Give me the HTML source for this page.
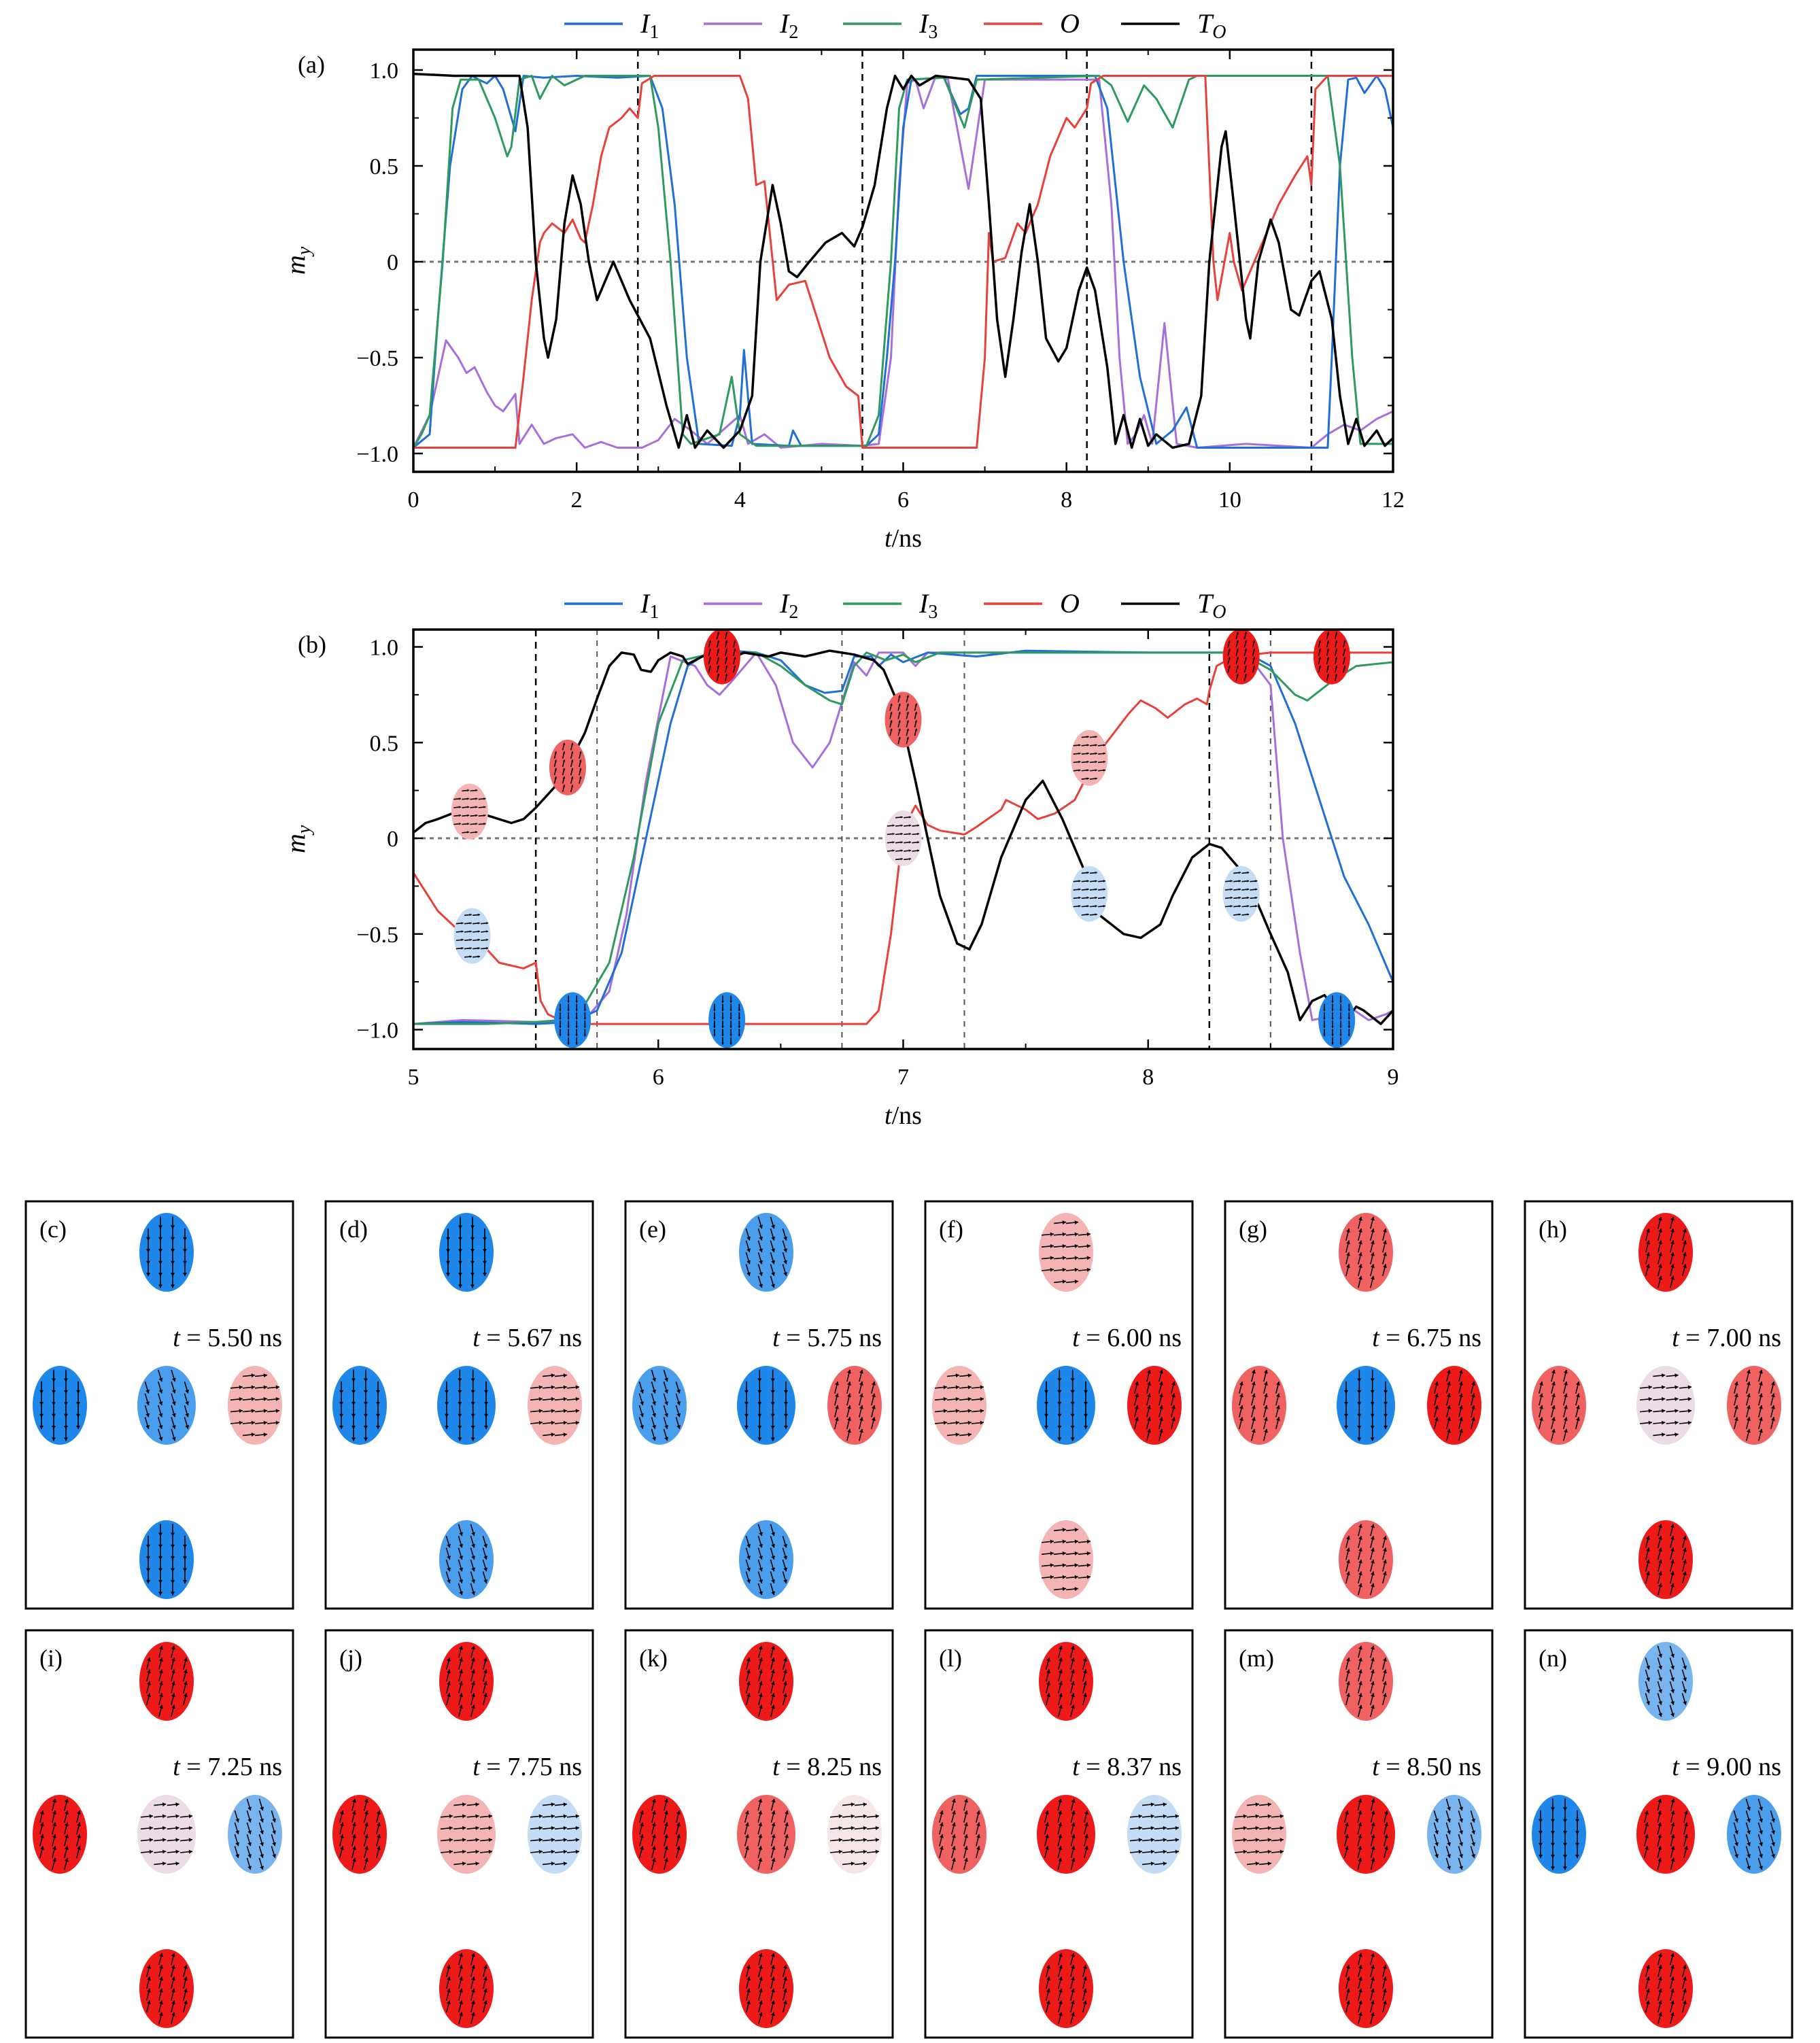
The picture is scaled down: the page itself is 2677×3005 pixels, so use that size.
<!DOCTYPE html>
<html><head><meta charset="utf-8"><style>
html,body{margin:0;padding:0;background:#fff;}
svg{display:block;font-family:"Liberation Serif",serif;}
</style></head><body>
<svg id="fig" width="2677" height="3005" viewBox="0 0 2677 3005" xmlns="http://www.w3.org/2000/svg">
<rect width="2677" height="3005" fill="#fff"/>
<g id="pa"></g>
<g id="pb"></g>
<g id="snap"></g>
</svg>
<script>
// ---------- Panel (a) data ----------
const aI1T=[0,0.2,0.3,0.45,0.6,0.72,0.8,0.9,1.0,1.1,1.25,1.35,1.6,2.0,2.5,2.9,3.05,3.2,3.35,3.5,3.9,4.0,4.05,4.15,4.6,4.65,4.75,5.55,5.7,5.8,5.9,6.0,6.1,6.5,6.7,6.8,6.9,8.35,8.5,8.7,8.9,9.1,9.3,9.47,9.6,11.2,11.25,11.35,11.45,11.55,11.65,11.8,11.9,12];
const aI1V=[-0.97,-0.9,-0.3,0.5,0.9,0.97,0.95,0.93,0.97,0.9,0.68,0.97,0.96,0.97,0.96,0.97,0.8,0.3,-0.5,-0.95,-0.96,-0.8,-0.46,-0.95,-0.96,-0.88,-0.96,-0.96,-0.9,-0.5,0,0.7,0.95,0.96,0.77,0.8,0.97,0.97,0.8,0,-0.6,-0.95,-0.88,-0.76,-0.97,-0.97,-0.5,0.5,0.95,0.96,0.88,0.97,0.9,0.7];
const aI2T=[0,0.2,0.4,0.55,0.65,0.75,0.9,1.0,1.1,1.25,1.3,1.45,1.6,1.75,1.95,2.1,2.3,2.5,2.8,3.0,3.2,3.4,3.6,4.0,4.1,4.3,4.5,5.0,5.5,5.7,5.85,5.95,6.05,6.15,6.25,6.4,6.55,6.8,7.0,8.4,8.55,8.65,8.75,8.85,8.95,9.05,9.2,9.35,9.6,10.2,11.0,11.2,11.4,11.6,11.8,12];
const aI2V=[-0.97,-0.8,-0.41,-0.5,-0.58,-0.55,-0.68,-0.75,-0.78,-0.69,-0.95,-0.85,-0.95,-0.92,-0.9,-0.97,-0.94,-0.97,-0.97,-0.93,-0.82,-0.88,-0.95,-0.8,-0.95,-0.9,-0.97,-0.95,-0.96,-0.95,-0.5,0.4,0.93,0.95,0.8,0.97,0.95,0.38,0.95,0.95,0.3,-0.5,-0.95,-0.9,-0.8,-0.95,-0.32,-0.95,-0.97,-0.95,-0.97,-0.9,-0.85,-0.88,-0.82,-0.78];
const aI3T=[0,0.1,0.2,0.36,0.48,0.58,0.8,1.0,1.15,1.2,1.3,1.45,1.55,1.7,1.85,2.1,2.9,3.0,3.15,3.3,3.4,3.75,3.9,4.0,4.2,5.55,5.7,5.85,5.95,6.05,6.5,6.75,6.9,8.4,8.55,8.75,8.95,9.1,9.3,9.5,9.6,11.2,11.35,11.5,11.6,12];
const aI3V=[-0.97,-0.9,-0.8,0,0.8,0.95,0.95,0.75,0.55,0.6,0.95,0.97,0.85,0.97,0.92,0.97,0.97,0.7,0,-0.9,-0.95,-0.9,-0.6,-0.9,-0.96,-0.96,-0.8,0,0.8,0.95,0.96,0.7,0.95,0.97,0.92,0.73,0.92,0.85,0.7,0.95,0.97,0.97,0.5,-0.5,-0.95,-0.95];
const aOT=[0,1.25,1.35,1.45,1.55,1.6,1.7,1.85,1.95,2.05,2.1,2.2,2.3,2.4,2.55,2.65,2.75,2.8,2.95,4.0,4.1,4.2,4.3,4.45,4.6,4.8,4.95,5.1,5.3,5.45,5.5,6.9,7.0,7.05,7.1,7.25,7.4,7.5,7.65,7.8,8.0,8.1,8.25,8.3,8.45,9.7,9.8,9.85,10.0,10.05,10.15,10.4,10.6,10.8,10.95,11.0,11.05,11.2,12];
const aOV=[-0.97,-0.97,-0.6,-0.2,0.1,0.15,0.2,0.15,0.22,0.12,0.1,0.3,0.55,0.7,0.75,0.8,0.75,0.93,0.97,0.97,0.85,0.4,0.42,-0.2,-0.12,-0.1,-0.3,-0.5,-0.65,-0.7,-0.97,-0.97,-0.5,0.15,0,0.02,0.2,0.15,0.3,0.55,0.75,0.7,0.8,0.93,0.97,0.97,0,-0.2,0.15,0,-0.15,0.1,0.3,0.45,0.55,0.4,0.9,0.97,0.97];
const aTT=[0,0.5,1.0,1.3,1.4,1.5,1.6,1.65,1.75,1.85,1.95,2.05,2.15,2.25,2.35,2.45,2.55,2.65,2.75,2.9,3.1,3.25,3.35,3.45,3.6,3.8,4.0,4.15,4.25,4.4,4.5,4.6,4.7,4.85,5.05,5.25,5.4,5.5,5.65,5.8,5.9,6.0,6.1,6.2,6.4,6.6,6.8,6.95,7.05,7.15,7.25,7.35,7.45,7.55,7.65,7.75,7.9,8.0,8.15,8.25,8.35,8.5,8.6,8.7,8.8,8.9,9.0,9.1,9.3,9.5,9.65,9.75,9.9,9.95,10.05,10.2,10.25,10.35,10.5,10.6,10.75,10.85,11.0,11.1,11.25,11.35,11.45,11.55,11.65,11.8,11.9,12];
const aTV=[0.98,0.97,0.97,0.97,0.7,0,-0.4,-0.5,-0.3,0.2,0.45,0.3,0,-0.2,-0.1,0,-0.1,-0.2,-0.28,-0.4,-0.75,-0.97,-0.8,-0.97,-0.88,-0.97,-0.88,-0.7,0,0.4,0.2,-0.05,-0.08,0,0.1,0.15,0.08,0.18,0.4,0.8,0.97,0.9,0.97,0.92,0.97,0.96,0.95,0.85,0.3,-0.3,-0.6,-0.3,0.05,0.3,0,-0.4,-0.52,-0.45,-0.15,-0.03,-0.15,-0.55,-0.95,-0.8,-0.97,-0.82,-0.96,-0.9,-0.97,-0.95,-0.7,0,0.6,0.68,0.3,-0.3,-0.4,0,0.22,0.1,-0.25,-0.28,-0.1,-0.05,-0.3,-0.7,-0.95,-0.82,-0.96,-0.88,-0.96,-0.92];
const aXTicks=[0,2,4,6,8,10,12];
const aYTicks=[1.0,0.5,0,-0.5,-1.0];
const aYTickLabels=["1.0","0.5","0","\u22120.5","\u22121.0"];
const aVLines=[2.75,5.5,8.25,11.0];

// ---------- Panel (b) data ----------
const bI1T=[5,5.2,5.5,5.65,5.75,5.85,5.95,6.05,6.12,6.2,6.3,6.4,6.5,6.6,6.68,6.75,6.8,6.87,6.9,6.95,7.0,7.1,7.3,7.5,8.0,8.4,8.5,8.6,8.7,8.8,8.9,9.0];
const bI1V=[-0.97,-0.96,-0.97,-0.96,-0.9,-0.6,0,0.6,0.9,0.97,0.98,0.97,0.93,0.8,0.76,0.77,0.95,0.95,0.9,0.96,0.92,0.97,0.95,0.98,0.97,0.97,0.9,0.6,0.2,-0.2,-0.45,-0.75];
const bI2T=[5,5.2,5.5,5.7,5.8,5.87,5.95,6.05,6.15,6.2,6.25,6.3,6.4,6.48,6.55,6.63,6.7,6.8,6.85,6.9,7.0,7.05,7.1,8.4,8.5,8.55,8.62,8.67,8.75,8.78,8.82,8.9,8.97,9.0];
const bI2V=[-0.97,-0.95,-0.96,-0.95,-0.8,-0.4,0.3,0.95,0.9,0.8,0.75,0.82,0.97,0.8,0.5,0.37,0.5,0.92,0.85,0.97,0.97,0.9,0.97,0.97,0.8,0,-0.6,-0.95,-0.93,-0.88,-0.88,-0.95,-0.92,-0.9];
const bI3T=[5,5.3,5.5,5.6,5.7,5.8,5.9,6.0,6.1,6.2,6.4,6.5,6.6,6.7,6.75,6.8,6.85,6.93,7.0,7.05,7.15,8.3,8.4,8.5,8.6,8.65,8.75,8.85,9.0];
const bI3V=[-0.97,-0.97,-0.96,-0.95,-0.87,-0.65,-0.1,0.6,0.93,0.96,0.97,0.9,0.8,0.72,0.7,0.9,0.97,0.93,0.96,0.92,0.97,0.97,0.95,0.88,0.75,0.72,0.82,0.9,0.92];
const bOT=[5,5.05,5.1,5.2,5.3,5.35,5.45,5.5,5.52,5.55,5.6,5.7,6.0,6.5,6.85,6.9,6.95,7.0,7.05,7.1,7.15,7.25,7.3,7.4,7.42,7.5,7.55,7.62,7.7,7.8,7.92,7.97,8.03,8.08,8.15,8.2,8.24,8.25,8.28,8.35,8.5,9.0];
const bOV=[-0.18,-0.28,-0.38,-0.5,-0.58,-0.65,-0.68,-0.65,-0.85,-0.92,-0.95,-0.97,-0.97,-0.97,-0.97,-0.9,-0.5,0.05,0.17,0.07,0.04,0.02,0.06,0.15,0.2,0.15,0.1,0.13,0.2,0.45,0.65,0.72,0.68,0.63,0.7,0.73,0.7,0.77,0.9,0.95,0.97,0.97];
const bTT=[5,5.05,5.1,5.2,5.3,5.4,5.45,5.5,5.6,5.7,5.75,5.8,5.85,5.9,5.93,5.97,6.0,6.05,6.1,6.12,6.18,6.25,6.3,6.35,6.45,6.5,6.6,6.7,6.8,6.88,6.92,6.98,7.05,7.1,7.15,7.22,7.27,7.32,7.4,7.5,7.57,7.65,7.75,7.8,7.9,7.97,8.05,8.1,8.18,8.25,8.3,8.4,8.5,8.57,8.62,8.67,8.72,8.77,8.8,8.85,8.88,8.95,9.0];
const bTV=[0.03,0.08,0.1,0.15,0.12,0.08,0.1,0.16,0.3,0.55,0.73,0.9,0.97,0.96,0.88,0.87,0.93,0.97,0.95,0.91,0.95,0.97,0.94,0.97,0.95,0.97,0.95,0.98,0.96,0.93,0.88,0.7,0.3,0,-0.3,-0.55,-0.58,-0.45,-0.1,0.2,0.3,0.1,-0.2,-0.4,-0.5,-0.52,-0.45,-0.3,-0.1,-0.03,-0.05,-0.2,-0.5,-0.7,-0.95,-0.85,-0.82,-0.9,-0.96,-0.88,-0.9,-0.97,-0.9];
const bXTicks=[5,6,7,8,9];
const bBlackVLines=[5.5,8.25];
const bGrayVLines=[5.75,6.75,7.25,8.5];
const bMarkT=[5.23,5.24,5.63,5.65,6.26,6.28,7.0,7.0,7.76,7.76,8.38,8.75,8.38,8.77];
const bMarkV=[0.14,-0.51,0.37,-0.95,0.95,-0.95,0.62,0.0,0.42,-0.29,0.95,0.95,-0.29,-0.95];
const bMarkC=["lr","lb","mr","B","r","B","mr","mix","lr","lb","r","r","lb","B"];

// ---------- Snapshot panels ----------
const snapLabels=["(c)","(d)","(e)","(f)","(g)","(h)","(i)","(j)","(k)","(l)","(m)","(n)"];
const snapTimes=["5.50","5.67","5.75","6.00","6.75","7.00","7.25","7.75","8.25","8.37","8.50","9.00"];
// order: top, left, middle, right, bottom
const snapColors=[
 ["B","B","b","lr","B"],["B","B","B","lr","b"],["b","b","B","mr","b"],
 ["lr","lr","B","r","lr"],["mr","mr","B","r","mr"],["r","mr","mix","mr","r"],
 ["r","r","mix","mb","r"],["r","r","lr","lb","r"],["r","r","mr","w","r"],
 ["r","mr","r","lb","r"],["mr","lr","r","mb","r"],["mb","B","r","b","r"]];

const NS="http://www.w3.org/2000/svg";
const COL={I1:"#1f6fd6",I2:"#a66fdc",I3:"#2e9a5e",O:"#e8403a",T:"#000"};
const FILL={B:"#1f86ea",b:"#4a9eec",mb:"#78b4ee",lb:"#c4dcf4",r:"#ee1a1a",mr:"#f06262",lr:"#f5b4b4",w:"#f6e6e6",mix:"#ecdce6"};
function mk(tag,attrs,parent){const e=document.createElementNS(NS,tag);for(const k in attrs)e.setAttribute(k,attrs[k]);if(parent)parent.appendChild(e);return e;}

function axesPanel(g,cfg){
  const {x0,x1,y0,y1,tmin,tmax,vzero,vscale}=cfg;
  const X=t=>x0+(t-tmin)/(tmax-tmin)*(x1-x0);
  const Y=v=>vzero-v*vscale;
  const clipId=cfg.id+"clip";
  const cp=mk("clipPath",{id:clipId},g);mk("rect",{x:x0,y:y0,width:x1-x0,height:y1-y0},cp);
  const zl=mk("line",{x1:x0,x2:x1,y1:Y(0),y2:Y(0),stroke:"#777","stroke-width":3,"stroke-dasharray":"6,6"},g);
  
  
  return {X,Y,clipId};
}
function series(g,X,Y,T,V,color,w,name,clipId){
  let d="";for(let i=0;i<T.length;i++)d+=(i?"L":"M")+X(T[i]).toFixed(1)+","+Y(V[i]).toFixed(1);
  const p=mk("path",{d:d,fill:"none",stroke:color,"stroke-width":w,"stroke-linejoin":"round","clip-path":"url(#"+clipId+")"},g);
  
  
}
function legend(g,y){
  const items=[["I","1",COL.I1,830],["I","2",COL.I2,1035],["I","3",COL.I3,1240],["O","",COL.O,1447],["T","O",COL.T,1649]];
  items.forEach(it=>{
    const l=mk("line",{x1:it[3],x2:it[3]+86,y1:y,y2:y,stroke:it[2],"stroke-width":3.5},g);
    
    
    const t=mk("text",{x:it[3]+112,y:y+13,"font-size":40,"font-style":"italic"},g);
    t.textContent=it[0];
    if(it[1]){const s=mk("tspan",{"font-size":28,dy:8,"font-style":it[1]==="O"?"italic":"normal"},t);s.textContent=it[1];}
    
    
  });
}
function frameTicks(g,X,Y,cfg,xt,xminor,yt,yl,yminor){
  const {x0,x1,y0,y1}=cfg;
  xt.forEach(t=>{
    mk("line",{x1:X(t),x2:X(t),y1:y1,y2:y1-14,stroke:"#000","stroke-width":2.5},g);
    mk("line",{x1:X(t),x2:X(t),y1:y0,y2:y0+14,stroke:"#000","stroke-width":2.5},g);
    const tx=mk("text",{x:X(t),y:y1+52,"font-size":34,"text-anchor":"middle"},g);tx.textContent=String(t);
    
    
  });
  xminor.forEach(t=>{mk("line",{x1:X(t),x2:X(t),y1:y1,y2:y1-8,stroke:"#000","stroke-width":2},g);mk("line",{x1:X(t),x2:X(t),y1:y0,y2:y0+8,stroke:"#000","stroke-width":2},g);});
  yt.forEach((v,i)=>{
    mk("line",{x1:x0,x2:x0+14,y1:Y(v),y2:Y(v),stroke:"#000","stroke-width":2.5},g);
    mk("line",{x1:x1,x2:x1-14,y1:Y(v),y2:Y(v),stroke:"#000","stroke-width":2.5},g);
    const tx=mk("text",{x:x0-22,y:Y(v)+12,"font-size":34,"text-anchor":"end"},g);tx.textContent=yl[i];
    
    
  });
  yminor.forEach(v=>{mk("line",{x1:x0,x2:x0+8,y1:Y(v),y2:Y(v),stroke:"#000","stroke-width":2},g);mk("line",{x1:x1,x2:x1-8,y1:Y(v),y2:Y(v),stroke:"#000","stroke-width":2},g);});
  const fr=mk("rect",{x:x0,y:y0,width:x1-x0,height:y1-y0,fill:"none",stroke:"#000","stroke-width":3.5},g);
  
  
  const xl=mk("text",{x:(x0+x1)/2,y:y1+110,"font-size":38,"text-anchor":"middle"},g);
  xl.innerHTML='<tspan font-style="italic">t</tspan>/ns';
  
  
  const yy=(y0+y1)/2;
  const ylab=mk("text",{x:448,y:yy,"font-size":40,"font-style":"italic","text-anchor":"middle",transform:"rotate(-90 448 "+yy+")"},g);
  ylab.innerHTML='m<tspan font-size="28" dy="8">y</tspan>';
  
  
}
function arrowsIn(g,cx,cy,rx,ry,code,sc){
  let dir=[0,1];
  if(code==="r"||code==="mr")dir=[0.25,-1];
  if(code==="lr"||code==="mix"||code==="lb"||code==="w")dir=[1,-0.1];
  if(code==="b"||code==="mb")dir=[0.3,1];
  const cols=4,rows=6;
  for(let i=0;i<cols;i++)for(let j=0;j<rows;j++){
    const px=cx+(i-(cols-1)/2)*rx*0.45, py=cy+(j-(rows-1)/2)*ry*0.3;
    if(((px-cx)/rx)**2+((py-cy)/ry)**2>0.85)continue;
    const L=9*sc, n=Math.hypot(dir[0],dir[1]),dx=dir[0]/n*L,dy=dir[1]/n*L;
    mk("line",{x1:px-dx,y1:py-dy,x2:px+dx,y2:py+dy,stroke:"#000","stroke-width":1.6},g);
    const hx=px+dx,hy=py+dy,ax=-dx/L*5*sc,ay=-dy/L*5*sc;
    mk("path",{d:`M${hx},${hy}L${hx+ax-ay*0.6},${hy+ay+ax*0.6}L${hx+ax+ay*0.6},${hy+ay-ax*0.6}Z`,fill:"#000"},g);
  }
}
function ellipse(g,cx,cy,rx,ry,code,sc,name){
  const e=mk("ellipse",{cx:cx,cy:cy,rx:rx,ry:ry,fill:FILL[code]},g);
  
  
  arrowsIn(g,cx,cy,rx,ry,code,sc);
}

// Panel a
(function(){
  const g=document.getElementById("pa");
  const cfg={id:"pa",x0:608,x1:2049,y0:73,y1:694,tmin:0,tmax:12,vzero:385,vscale:282};
  const {X,Y,clipId}=axesPanel(g,cfg);
  aVLines.forEach(t=>{const l=mk("line",{x1:X(t),x2:X(t),y1:cfg.y0,y2:cfg.y1,stroke:"#000","stroke-width":2.5,"stroke-dasharray":"10,8"},g);
    
    });
  series(g,X,Y,aI2T,aI2V,COL.I2,3,"series-i2",clipId);
  series(g,X,Y,aI1T,aI1V,COL.I1,3,"series-i1",clipId);
  series(g,X,Y,aI3T,aI3V,COL.I3,3,"series-i3",clipId);
  series(g,X,Y,aOT,aOV,COL.O,3,"series-o",clipId);
  series(g,X,Y,aTT,aTV,COL.T,3.5,"series-to",clipId);
  frameTicks(g,X,Y,cfg,aXTicks,[1,3,5,7,9,11],aYTicks,aYTickLabels,[0.75,0.25,-0.25,-0.75]);
  legend(g,35);
  const pl=mk("text",{x:438,y:107,"font-size":36},g);pl.textContent="(a)";
  
  
})();
// Panel b
(function(){
  const g=document.getElementById("pb");
  const cfg={id:"pb",x0:608,x1:2049,y0:926,y1:1543,tmin:5,tmax:9,vzero:1233,vscale:281.5};
  const {X,Y,clipId}=axesPanel(g,cfg);
  bBlackVLines.forEach(t=>{const l=mk("line",{x1:X(t),x2:X(t),y1:cfg.y0,y2:cfg.y1,stroke:"#000","stroke-width":2.5,"stroke-dasharray":"10,8"},g);
    
    });
  bGrayVLines.forEach(t=>{const l=mk("line",{x1:X(t),x2:X(t),y1:cfg.y0,y2:cfg.y1,stroke:"#555","stroke-width":2,"stroke-dasharray":"8,8"},g);
    
    });
  series(g,X,Y,bI2T,bI2V,COL.I2,3,"series-i2",clipId);
  series(g,X,Y,bI1T,bI1V,COL.I1,3,"series-i1",clipId);
  series(g,X,Y,bI3T,bI3V,COL.I3,3,"series-i3",clipId);
  series(g,X,Y,bOT,bOV,COL.O,3,"series-o",clipId);
  series(g,X,Y,bTT,bTV,COL.T,3.5,"series-to",clipId);
  bMarkT.forEach((t,i)=>ellipse(g,X(t),Y(bMarkV[i]),27,41,bMarkC[i],0.6,"magnet-marker"));
  frameTicks(g,X,Y,cfg,bXTicks,[5.5,6.5,7.5,8.5],aYTicks,aYTickLabels,[0.75,0.25,-0.25,-0.75]);
  legend(g,888);
  const pl=mk("text",{x:438,y:960,"font-size":36},g);pl.textContent="(b)";
  
  
})();
// Snapshots
(function(){
  const g=document.getElementById("snap");
  const colX=[38,479,920,1361,1802,2243], rowY=[1767,2398], W=393, H=599;
  const rel=[[207,75],[50,300],[207,300],[337,300],[207,527]];
  snapLabels.forEach((lab,k)=>{
    const bx=colX[k%6], by=rowY[Math.floor(k/6)];
    const pg=mk("g",{},g);
    
    
    const r=mk("rect",{x:bx,y:by,width:W,height:H,fill:"none",stroke:"#000","stroke-width":3},pg);
    
    
    const t=mk("text",{x:bx+20,y:by+53,"font-size":36},pg);t.textContent=lab;
    
    
    const tt=mk("text",{x:bx+377,y:by+213,"font-size":38,"text-anchor":"end"},pg);
    tt.innerHTML='<tspan font-style="italic">t</tspan> = '+snapTimes[k]+' ns';
    
    
    rel.forEach((p,i)=>{
      const rx=(i===2)?43:40;
      ellipse(pg,bx+p[0],by+p[1],rx,58,snapColors[k][i],1,"magnet");
    });
  });
})();
</script>
</body></html>
